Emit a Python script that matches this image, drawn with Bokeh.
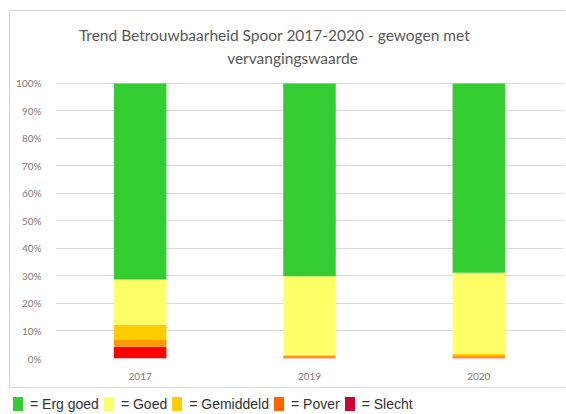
from bokeh.plotting import figure
from bokeh.models import ColumnDataSource, Label, Div, NumeralTickFormatter, FixedTicker
from bokeh.layouts import column
from bokeh.embed import file_html
from bokeh.resources import INLINE

years = ["2017", "2019", "2020"]
slecht = [0.043, 0.004, 0.004]
pover = [0.027, 0.006, 0.008]
gemiddeld = [0.053, 0.004, 0.005]
goed = [0.164, 0.285, 0.295]
erg_goed = [0.713, 0.701, 0.688]

title_lines = ["Trend Betrouwbaarheid Spoor 2017-2020 - gewogen met", "vervangingswaarde"]
categories = ["slecht", "pover", "gemiddeld", "goed", "erg_goed"]
bar_colors = ["#ff0000", "#ff9900", "#ffcc00", "#ffff66", "#33cc33"]
legend_labels = ["= Erg goed", "= Goed", "= Gemiddeld", "= Pover", "= Slecht"]
legend_colors = ["#33cc33", "#ffff66", "#ffcc00", "#ff6600", "#cc0033"]
yticks = [0, 0.1, 0.2, 0.3, 0.4, 0.5, 0.6, 0.7, 0.8, 0.9, 1.0]

source = ColumnDataSource(dict(years=years, slecht=slecht, pover=pover,
                               gemiddeld=gemiddeld, goed=goed, erg_goed=erg_goed))

# the frame reaches up to the top of the box so the title fits inside it
p = figure(x_range=years, y_range=(0, 1.2618), width=556, height=378,
           output_backend="svg", toolbar_location=None,
           min_border_left=45, min_border_right=3, min_border_bottom=31, min_border_top=0)
p.styles = {"border": "1px solid #d9d9d9", "border-right": "none"}
p.vbar_stack(categories, x="years", width=0.31, color=bar_colors, source=source, line_width=0)

# screen units are measured from the frame's bottom-left corner
for txt, xs, ys in zip(title_lines, [219, 237], [324, 301]):
    p.add_layout(Label(text=txt, x=xs, y=ys, x_units="screen", y_units="screen",
                       text_align="center", text_baseline="middle", text_font="Lato",
                       text_font_size="15.5px", text_color="#595959"))

p.outline_line_color = None
p.xgrid.grid_line_color = None
p.ygrid.grid_line_color = "#d9d9d9"
p.ygrid.ticker = FixedTicker(ticks=yticks)
p.yaxis.ticker = FixedTicker(ticks=yticks)
p.yaxis.formatter = NumeralTickFormatter(format="0%")
for ax in (p.xaxis, p.yaxis):
    ax.axis_line_color = None
    ax.major_tick_line_color = None
    ax.minor_tick_line_color = None
    ax.major_tick_out = 0
    ax.minor_tick_out = 0
    ax.major_label_text_font = "Lato"
    ax.major_label_text_font_size = "10px"
    ax.major_label_text_color = "#808080"
p.yaxis.major_label_standoff = 14
p.xaxis.major_label_standoff = 14

parts = []
for lab, col in zip(legend_labels, legend_colors):
    parts.append(
        f'<span style="display:inline-block;width:10px;height:14px;background:{col};'
        f'vertical-align:-2px"></span>'
        f'<span style="margin:0 5px 0 7px">{lab}</span>')
legend_html = ('<div style="font-family:\'Liberation Sans\';font-size:14px;color:#333333;'
               'white-space:nowrap;line-height:14px;padding-top:9px;padding-left:4px">'
               + "".join(parts) + "</div>")
lg = Div(text=legend_html, width=556, height=24, margin=(0, 0, 0, 0))

layout = column(p, lg, spacing=0)
layout.margin = (10, 0, 0, 9)
open("out.html", "w").write(file_html(layout, INLINE))
